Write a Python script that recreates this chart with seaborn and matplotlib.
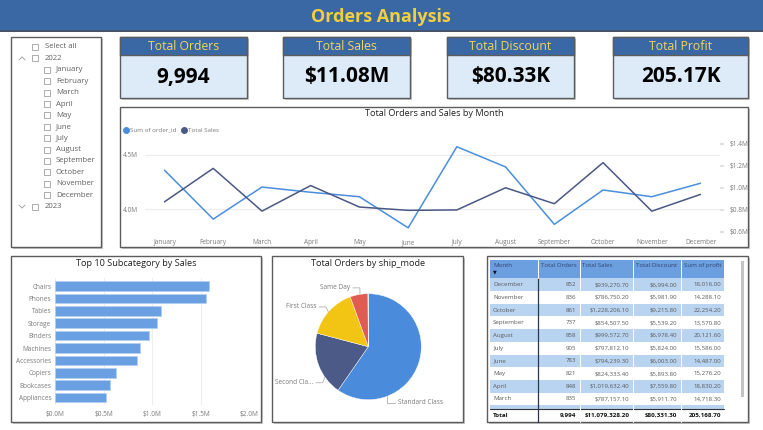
import numpy as np
import pandas as pd
import matplotlib.pyplot as plt
from matplotlib.patches import Rectangle
import seaborn as sns

# ---- data ----
months = ['January', 'February', 'March', 'April', 'May', 'June', 'July',
          'August', 'September', 'October', 'November', 'December']
order_id_sum = [4.36, 3.91, 4.205, 4.157, 4.116, 3.83, 4.576, 4.39, 3.862, 4.178, 4.116, 4.24]  # millions
month_sales = [0.872, 1.176, 0.787157, 1.019632, 0.824333, 0.794239, 0.797812,
               0.999573, 0.854508, 1.228206, 0.786750, 0.939271]  # millions

subcategories = ['Chairs', 'Phones', 'Tables', 'Storage', 'Binders', 'Machines',
                 'Accessories', 'Copiers', 'Bookcases', 'Appliances']
subcat_sales = [1.589, 1.555, 1.092, 1.051, 0.969, 0.873, 0.842, 0.630, 0.568, 0.524]  # millions

ship_modes = ['Standard Class', 'Second Class', 'First Class', 'Same Day', '']
ship_orders = [5968, 1945, 1538, 543, 10]

table_months = ['December', 'November', 'October', 'September', 'August',
                'July', 'June', 'May', 'April', 'March']
table_orders = [852, 836, 861, 737, 858, 905, 783, 821, 848, 835]
table_sales = [939270.70, 786750.20, 1228206.10, 854507.50, 999572.70,
               797812.10, 794239.30, 824333.40, 1019632.40, 787157.10]
table_discount = [6994.00, 5981.90, 9215.80, 5539.20, 6978.40,
                  5824.00, 6003.00, 5893.80, 7559.80, 5911.70]
table_profit = [18016.00, 14288.10, 22254.20, 13570.80, 20121.60,
                15586.00, 14487.00, 15276.20, 18830.20, 14718.30]
totals = [9994, 11079328.20, 80331.30, 205168.70]

kpi_titles = ['Total Orders', 'Total Sales', 'Total Discount', 'Total Profit']
kpi_values = ['9,994', '$11.08M', '$80.33K', '205.17K']

slicer_items = [('Select all', 0), ('2022', 'open')] + [(m, 1) for m in months] + [('2023', 'closed')]

# ---- style ----
sns.set_theme(style='white')
plt.rcParams['font.family'] = ['Open Sans', 'DejaVu Sans']

W, H = 763, 430
BLUE_HDR = '#3a68a5'
YELLOW = '#f3cf3c'
C_LIGHT = '#4a8edc'
C_DARK = '#4a5886'
GREY_TXT = '#7a7a7a'
LBL = 4.7

fig = plt.figure(figsize=(W / 100, H / 100), dpi=100)
bg = fig.add_axes([0, 0, 1, 1])
bg.set_xlim(0, W)
bg.set_ylim(H, 0)
bg.axis('off')


def pax(x0, y0, x1, y1):
    a = fig.add_axes([x0 / W, 1 - y1 / H, (x1 - x0) / W, (y1 - y0) / H])
    a.patch.set_alpha(0)
    return a


def box(x0, y0, x1, y1, fc='white', ec='#5c5c5c', lw=1.0):
    bg.add_patch(Rectangle((x0 + 1.5, y0 + 2), x1 - x0, y1 - y0, fc='#c9c9c9', ec='none'))
    bg.add_patch(Rectangle((x0, y0), x1 - x0, y1 - y0, fc=fc, ec=ec, lw=lw))


# header band
bg.add_patch(Rectangle((0, 0), W, 30, fc=BLUE_HDR, ec='none'))
bg.plot([0, W], [30.5, 30.5], color='#23344f', lw=1.2)
bg.text(381, 16.5, 'Orders Analysis', ha='center', va='center', color=YELLOW,
        fontsize=13, fontweight='bold')

# KPI cards
cards = [(120, 247), (283, 410), (447, 574), (613, 748)]
for (x0, x1), t, v in zip(cards, kpi_titles, kpi_values):
    box(x0, 37, x1, 98, fc='#ddeaf8')
    bg.add_patch(Rectangle((x0, 37), x1 - x0, 18, fc=BLUE_HDR, ec='#5c5c5c', lw=1.0))
    bg.text((x0 + x1) / 2, 46.5, t, ha='center', va='center', color='#f3d55a', fontsize=8.8)
    bg.text((x0 + x1) / 2, 77, v, ha='center', va='center', color='black',
            fontsize=15, fontweight='bold')

# slicer
box(11, 37, 101, 247)
for i, (lab, lvl) in enumerate(slicer_items):
    y = 47 + i * 11.4
    cx = 44 if lvl == 1 else 32
    bg.add_patch(Rectangle((cx, y - 3), 6, 6, fc='white', ec='#a0a0a0', lw=0.6))
    bg.text(cx + 13 - (1 if lvl == 1 else 0), y, lab, ha='left', va='center', color='#606060', fontsize=5.6)
    if lvl == 'open':
        bg.plot([19, 22, 25], [y + 1.5, y - 1.5, y + 1.5], color='#9a9a9a', lw=0.6)
    elif lvl == 'closed':
        bg.plot([19, 22, 25], [y - 1.5, y + 1.5, y - 1.5], color='#9a9a9a', lw=0.6)

# ---- line chart ----
box(120, 107, 748, 247)
bg.text(434, 113.5, 'Total Orders and Sales by Month', ha='center', va='center',
        color='#222222', fontsize=6.6)
bg.plot([126], [130], 'o', color=C_LIGHT, ms=4)
bg.text(130, 130, 'Sum of order_id', ha='left', va='center', color=GREY_TXT, fontsize=4.5)
bg.plot([184], [130], 'o', color=C_DARK, ms=4)
bg.text(188, 130, 'Total Sales', ha='left', va='center', color=GREY_TXT, fontsize=4.5)

df_m = pd.DataFrame({'Month': months, 'Sum of order_id': order_id_sum, 'Total Sales': month_sales})
ax = pax(145, 140, 720, 234)
for y in [4.0, 4.5]:
    ax.axhline(y, color='#ececec', lw=0.8, zorder=0)
sns.lineplot(data=df_m, x='Month', y='Sum of order_id', ax=ax, color=C_LIGHT, lw=1.1, sort=False)
ax.set_xlim(-0.4, 11.4)
ax.set_ylim(3.773, 4.638)
ax.set_yticks([4.0, 4.5])
ax.set_yticklabels(['4.0M', '4.5M'])
ax2 = ax.twinx()
ax2.patch.set_alpha(0)
sns.lineplot(data=df_m, x='Month', y='Total Sales', ax=ax2, color=C_DARK, lw=1.1, sort=False)
ax2.set_ylim(0.579, 1.434)
ax2.set_yticks([0.6, 0.8, 1.0, 1.2, 1.4])
ax2.set_yticklabels(['$0.6M', '$0.8M', '$1.0M', '$1.2M', '$1.4M'])
for a in (ax, ax2):
    a.set_xlabel('')
    a.set_ylabel('')
    for s in a.spines.values():
        s.set_visible(False)
    a.tick_params(axis='both', labelsize=LBL, labelcolor=GREY_TXT, length=0)
ax.tick_params(axis='x', pad=3.5)
ax.tick_params(axis='y', pad=5)
ax2.tick_params(axis='y', length=3, color='#dddddd', pad=4)

# ---- bar chart ----
box(11, 256, 261, 422)
bg.text(136, 263.5, 'Top 10 Subcategory by Sales', ha='center', va='center',
        color='#222222', fontsize=6.6)
df_b = pd.DataFrame({'Subcategory': subcategories, 'Sales': subcat_sales})
axb = pax(55.3, 278, 249.3, 405)
sns.barplot(data=df_b, y='Subcategory', x='Sales', ax=axb, color='#6a9fe2', saturation=1,
            width=0.77, edgecolor='#b3cff2', linewidth=0.5, zorder=2)
axb.set_xlim(0, 2.0)
axb.set_ylim(9.59, -0.645)
axb.set_xticks([0, 0.5, 1.0, 1.5, 2.0])
axb.set_xticklabels(['$0.0M', '$0.5M', '$1.0M', '$1.5M', '$2.0M'])
axb.grid(axis='x', color='#eeeeee', lw=0.8)
axb.set_axisbelow(True)
axb.set_xlabel('')
axb.set_ylabel('')
for s in axb.spines.values():
    s.set_visible(False)
axb.tick_params(axis='both', labelsize=LBL, labelcolor=GREY_TXT, length=0)
axb.tick_params(axis='x', pad=4)
axb.tick_params(axis='y', pad=3)

# ---- pie chart ----
box(272, 256, 463, 422)
bg.text(368.5, 263.5, 'Total Orders by ship_mode', ha='center', va='center',
        color='#222222', fontsize=6.6)
axp = pax(272, 270, 463, 420)
axp.pie(ship_orders, colors=['#4a8bdb', '#4b5a87', '#f2c515', '#e05b51', '#2fa86a'],
        startangle=90, counterclock=False, radius=1,
        wedgeprops=dict(linewidth=0.3, edgecolor='white'))
axp.set_xlim(-1.817, 1.787)
axp.set_ylim(-1.383, 1.447)
axp.set_aspect('auto')
# label layout: text x, text y, alignment, angle (clockwise from top) where the leader meets the pie
pie_labels = [('Same Day', -0.34, 1.11, 'right', 351),
              ('First Class', -0.98, 0.75, 'right', 311),
              ('Second Cla...', -1.04, -0.68, 'right', 235),
              ('Standard Class', 0.56, -1.06, 'left', 159)]
for lab, tx, ty, ha, ang in pie_labels:
    ex, ey = np.sin(np.radians(ang)), np.cos(np.radians(ang))
    sgn = -1 if ha == 'right' else 1
    x_start = tx - sgn * 0.05
    x_elbow = x_start - sgn * 0.13
    if ha == 'left':
        x_elbow = ex
    axp.plot([x_start, x_elbow, ex], [ty, ty, ey], color='#b0b0b0', lw=0.6, clip_on=False)
    axp.text(tx, ty, lab, ha=ha, va='center', color=GREY_TXT, fontsize=LBL)

# ---- table ----
box(487, 256, 748, 422)
cols_x = [490, 538, 579.5, 632.5, 680.5, 724]
bg.add_patch(Rectangle((490, 260), 234, 18.3, fc='#6b9fe0', ec='none'))
headers = ['Month', 'Total Orders', 'Total Sales', 'Total Discount', 'Sum of profit']
for j, h in enumerate(headers):
    bg.text(cols_x[j] + 3, 265.5, h, ha='left', va='center', color='#34466a', fontsize=4.4)
bg.text(493, 271.5, '▼', ha='left', va='center', color='#111111', fontsize=3.5)
row_h = 12.7
y0 = 278.3
for i in range(len(table_months)):
    yt = y0 + i * row_h
    fc = '#b9d4f1' if i % 2 == 0 else 'white'
    bg.add_patch(Rectangle((490, yt), 234, row_h, fc=fc, ec='none'))
    yc = yt + row_h / 2
    vals = [f'{table_orders[i]:,}', f'${table_sales[i]:,.2f}',
            f'${table_discount[i]:,.2f}', f'{table_profit[i]:,.2f}']
    bg.text(493, yc, table_months[i], ha='left', va='center', color='#5a5a5a', fontsize=4.4)
    for j, v in enumerate(vals):
        bg.text(cols_x[j + 2] - 3, yc, v, ha='right', va='center', color='#5a5a5a', fontsize=4.4)
y_part = y0 + len(table_months) * row_h
bg.add_patch(Rectangle((490, y_part), 234, 3.5, fc='#b9d4f1', ec='none'))
y_tot = y_part + 4
bg.plot([490, 724], [y_tot, y_tot], color='#333333', lw=0.8)
yc = y_tot + 6.5
tvals = [f'{totals[0]:,}', f'${totals[1]:,.2f}', f'${totals[2]:,.2f}', f'{totals[3]:,.2f}']
bg.text(493, yc, 'Total', ha='left', va='center', color='#111111', fontsize=4.5, fontweight='bold')
for j, v in enumerate(tvals):
    bg.text(cols_x[j + 2] - 3, yc, v, ha='right', va='center', color='#111111', fontsize=4.5,
            fontweight='bold')
bg.plot([490, 724], [y_tot + 13, y_tot + 13], color='#555555', lw=0.6)
for x in cols_x[2:-1]:
    bg.plot([x, x], [260, y_tot + 13], color='white', lw=0.7)
bg.plot([538, 538], [278.3, y_tot + 13], color='#2b3550', lw=0.9)
bg.plot([538, 538], [260, 278.3], color='white', lw=0.7)
# scrollbar
bg.add_patch(Rectangle((740.5, 261), 3, 136, fc='#c4c4c4', ec='none'))

fig.savefig('out.png', dpi=100)
